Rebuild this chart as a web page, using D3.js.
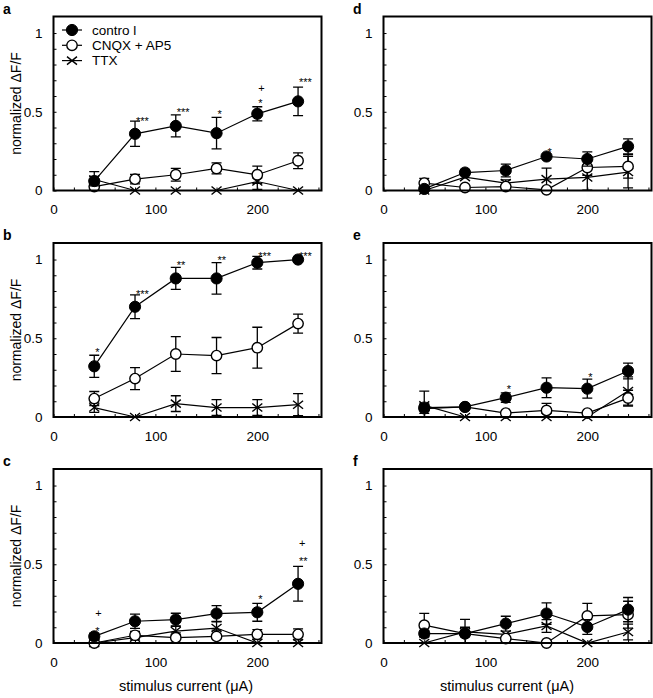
<!DOCTYPE html>
<html><head><meta charset="utf-8">
<script src="https://cdn.jsdelivr.net/npm/d3@7"></script>
<style>
body{margin:0;background:#fff}
text{font-family:"Liberation Sans",Arial,Helvetica,sans-serif;fill:#000}
</style>
</head><body>
<svg id="chart" width="653" height="698"></svg>
<script>
// ---------------- data ----------------
const panels = ["a","b","c","d","e","f"];
const currents = [40, 80, 120, 160, 200, 240];
const seriesNames = ["contro l", "CNQX + AP5", "TTX"];

// rows follow panel order a..f
const controlMean = [
  [0.06, 0.36, 0.41, 0.364, 0.487, 0.566],
  [0.322, 0.70, 0.88, 0.88, 0.98, 1.0],
  [0.042, 0.138, 0.149, 0.187, 0.195, 0.376],
  [0.01, 0.114, 0.127, 0.216, 0.20, 0.28],
  [0.06, 0.064, 0.123, 0.186, 0.18, 0.292],
  [0.06, 0.06, 0.123, 0.187, 0.102, 0.212]
];
const controlErr = [
  [0.03, 0.08, 0.07, 0.10, 0.045, 0.09],
  [0.07, 0.075, 0.07, 0.10, 0.04, 0.0],
  [0.02, 0.045, 0.04, 0.05, 0.057, 0.11],
  [0.01, 0.02, 0.04, 0.0, 0.045, 0.048],
  [0.02, 0.015, 0.03, 0.063, 0.06, 0.05],
  [0.02, 0.02, 0.047, 0.068, 0.047, 0.077]
];
const cnqxMean = [
  [0.025, 0.072, 0.10, 0.14, 0.10, 0.189],
  [0.117, 0.244, 0.40, 0.39, 0.44, 0.593],
  [0.0, 0.049, 0.034, 0.042, 0.055, 0.055],
  [0.047, 0.019, 0.025, 0.004, 0.146, 0.153],
  [0.053, 0.064, 0.025, 0.042, 0.025, 0.12],
  [0.113, 0.06, 0.028, 0.0, 0.172, 0.18]
];
const cnqxErr = [
  [0.02, 0.03, 0.04, 0.035, 0.055, 0.05],
  [0.045, 0.07, 0.11, 0.115, 0.13, 0.06],
  [0.0, 0.025, 0.03, 0.04, 0.03, 0.035],
  [0.03, 0.0, 0.0, 0.0, 0.05, 0.075],
  [0.03, 0.015, 0.0, 0.045, 0.0, 0.05],
  [0.075, 0.09, 0.0, 0.0, 0.08, 0.085]
];
const ttxMean = [
  [0.07, 0.0, 0.0, 0.0, 0.057, 0.0],
  [0.06, 0.0, 0.085, 0.06, 0.06, 0.078],
  [0.0, 0.034, 0.076, 0.095, 0.0, 0.0],
  [0.0, 0.085, 0.047, 0.072, 0.083, 0.117],
  [0.074, 0.0, 0.0, 0.0, 0.0, 0.165],
  [0.0, 0.07, 0.055, 0.108, 0.0, 0.07]
];
const ttxErr = [
  [0.05, 0.0, 0.0, 0.0, 0.05, 0.0],
  [0.03, 0.0, 0.05, 0.05, 0.05, 0.07],
  [0.0, 0.0, 0.03, 0.04, 0.0, 0.0],
  [0.0, 0.0, 0.02, 0.07, 0.08, 0.10],
  [0.09, 0.0, 0.0, 0.0, 0.0, 0.09],
  [0.0, 0.03, 0.0, 0.04, 0.0, 0.05]
];
// significance marks: panel, current, label, level (in ΔF/F units)
const marks = [
  ["a", 80, "***", 0.46], ["a", 120, "***", 0.517], ["a", 160, "*", 0.50],
  ["a", 200, "*", 0.57], ["a", 200, "+", 0.65], ["a", 240, "***", 0.703],
  ["b", 40, "*", 0.43], ["b", 80, "***", 0.80], ["b", 120, "**", 0.98],
  ["b", 160, "**", 1.01], ["b", 200, "***", 1.04], ["b", 240, "***", 1.04],
  ["c", 40, "*", 0.095], ["c", 40, "+", 0.193], ["c", 200, "*", 0.293],
  ["c", 240, "**", 0.537], ["c", 240, "+", 0.633],
  ["d", 160, "*", 0.263],
  ["e", 120, "*", 0.195], ["e", 200, "*", 0.27]
];
const yTickLabels = ["0", "0.5", "1"];
const xTickLabels = ["0", "100", "200"];
const yTitle = "normalized \u0394F/F";
const xTitle = "stimulus current (\u03bcA)";

// ---------------- layout ----------------
const colLeft = [53.5, 383.5];
const rowTop = [16.5, 243, 469];
const W = 268, H = 174;
const svg = d3.select("#chart");

const x = d3.scaleLinear().domain([0, 263]).range([0, W]);
const y = d3.scaleLinear().domain([0, 1.105]).range([H, 0]).clamp(true);

function marker(g, type, cx, cy) {
  if (type === 0) {
    g.append("circle").attr("cx", cx).attr("cy", cy).attr("r", 5.6)
      .attr("fill", "#000").attr("stroke", "#000").attr("stroke-width", 1);
  } else if (type === 1) {
    g.append("circle").attr("cx", cx).attr("cy", cy).attr("r", 5.2)
      .attr("fill", "#fff").attr("stroke", "#000").attr("stroke-width", 1.4);
  } else {
    const hw = 5, hh = 4;
    g.append("path").attr("d",
      `M${cx-hw},${cy-hh}L${cx+hw},${cy+hh}M${cx-hw},${cy+hh}L${cx+hw},${cy-hh}`)
      .attr("stroke", "#000").attr("stroke-width", 1.4).attr("fill", "none");
  }
}

panels.forEach((p, i) => {
  const col = i < 3 ? 0 : 1, row = i % 3;
  const g = svg.append("g").attr("transform", `translate(${colLeft[col]},${rowTop[row]})`);

  // axes (inward ticks)
  const xAxis = d3.axisBottom(x).tickValues(d3.range(0, 261, 20)).tickSize(-3).tickPadding(14)
    .tickFormat(d => (d % 100 === 0 ? xTickLabels[d / 100] : ""));
  const yAxis = d3.axisLeft(y).tickValues(d3.range(0, 11).map(k => k / 10)).tickSize(-3).tickPadding(11)
    .tickFormat(d => (Math.abs(d) < 1e-9 ? yTickLabels[0] : Math.abs(d - 0.5) < 1e-9 ? yTickLabels[1] : Math.abs(d - 1) < 1e-9 ? yTickLabels[2] : ""));
  const gx = g.append("g").attr("transform", `translate(0,${H})`).call(xAxis);
  const gy = g.append("g").call(yAxis);
  [gx, gy].forEach(a => {
    a.select(".domain").remove();
    a.selectAll("line").attr("stroke", "#000").attr("stroke-width", 1);
    a.selectAll("text").attr("font-size", 13.5).attr("font-family", "Liberation Sans, Arial, sans-serif").attr("fill", "#000");
  });

  const means = [controlMean[i], cnqxMean[i], ttxMean[i]];
  const errs = [controlErr[i], cnqxErr[i], ttxErr[i]];
  const line = d3.line().x((d, k) => x(currents[k])).y(d => y(d));

  // draw series: TTX, CNQX, control (control on top)
  [2, 1, 0].forEach(s => {
    const sg = g.append("g");
    sg.append("path").datum(means[s]).attr("d", line)
      .attr("fill", "none").attr("stroke", "#000").attr("stroke-width", 1.2);
    means[s].forEach((m, k) => {
      const e = errs[s][k];
      if (e > 0) {
        const cx = x(currents[k]);
        const y1 = y(m + e), y0 = y(m - e);
        sg.append("path").attr("d",
          `M${cx},${y0}L${cx},${y1}M${cx-5},${y1}L${cx+5},${y1}` + (m - e > 0 ? `M${cx-5},${y0}L${cx+5},${y0}` : ""))
          .attr("stroke", "#000").attr("stroke-width", 1.3).attr("fill", "none");
      }
    });
    means[s].forEach((m, k) => marker(sg, s, x(currents[k]), y(m)));
  });

  // significance marks
  marks.filter(m => m[0] === p).forEach(m => {
    const off = m[2].startsWith("*") ? 6.5 : 4;
    g.append("text").attr("x", x(m[1]) + 1).attr("y", y(m[3]) + off)
      .attr("font-size", 11).attr("text-anchor", "start").text(m[2]);
  });

  // frame
  g.append("rect").attr("width", W).attr("height", H)
    .attr("fill", "none").attr("stroke", "#000").attr("stroke-width", 2);

  // panel letter
  svg.append("text").attr("x", col === 0 ? 3 : 353).attr("y", rowTop[row] - 3)
    .attr("font-size", 14).attr("font-weight", "bold").text(p);

  // y title (left column)
  if (col === 0) {
    svg.append("text").attr("transform", `translate(21,${rowTop[row] + H / 2}) rotate(-90)`)
      .attr("text-anchor", "middle").attr("font-size", 14).text(yTitle);
  }
  // x title (bottom row)
  if (row === 2) {
    svg.append("text").attr("x", col === 0 ? 186 : 507).attr("y", 691)
      .attr("text-anchor", "middle").attr("font-size", 14.5).text(xTitle);
  }

  // legend in panel a
  if (p === "a") {
    const lg = g.append("g");
    [0, 1, 2].forEach(s => {
      const ly = 13.5 + s * 15.3;
      lg.append("line").attr("x1", 8.5).attr("x2", 28.5).attr("y1", ly).attr("y2", ly)
        .attr("stroke", "#000").attr("stroke-width", 1.2);
      marker(lg, s, 18.5, ly);
      lg.append("text").attr("x", 38.5).attr("y", ly).attr("dy", "0.36em")
        .attr("font-size", 13.5).text(seriesNames[s]);
    });
  }
});
</script>
</body></html>
